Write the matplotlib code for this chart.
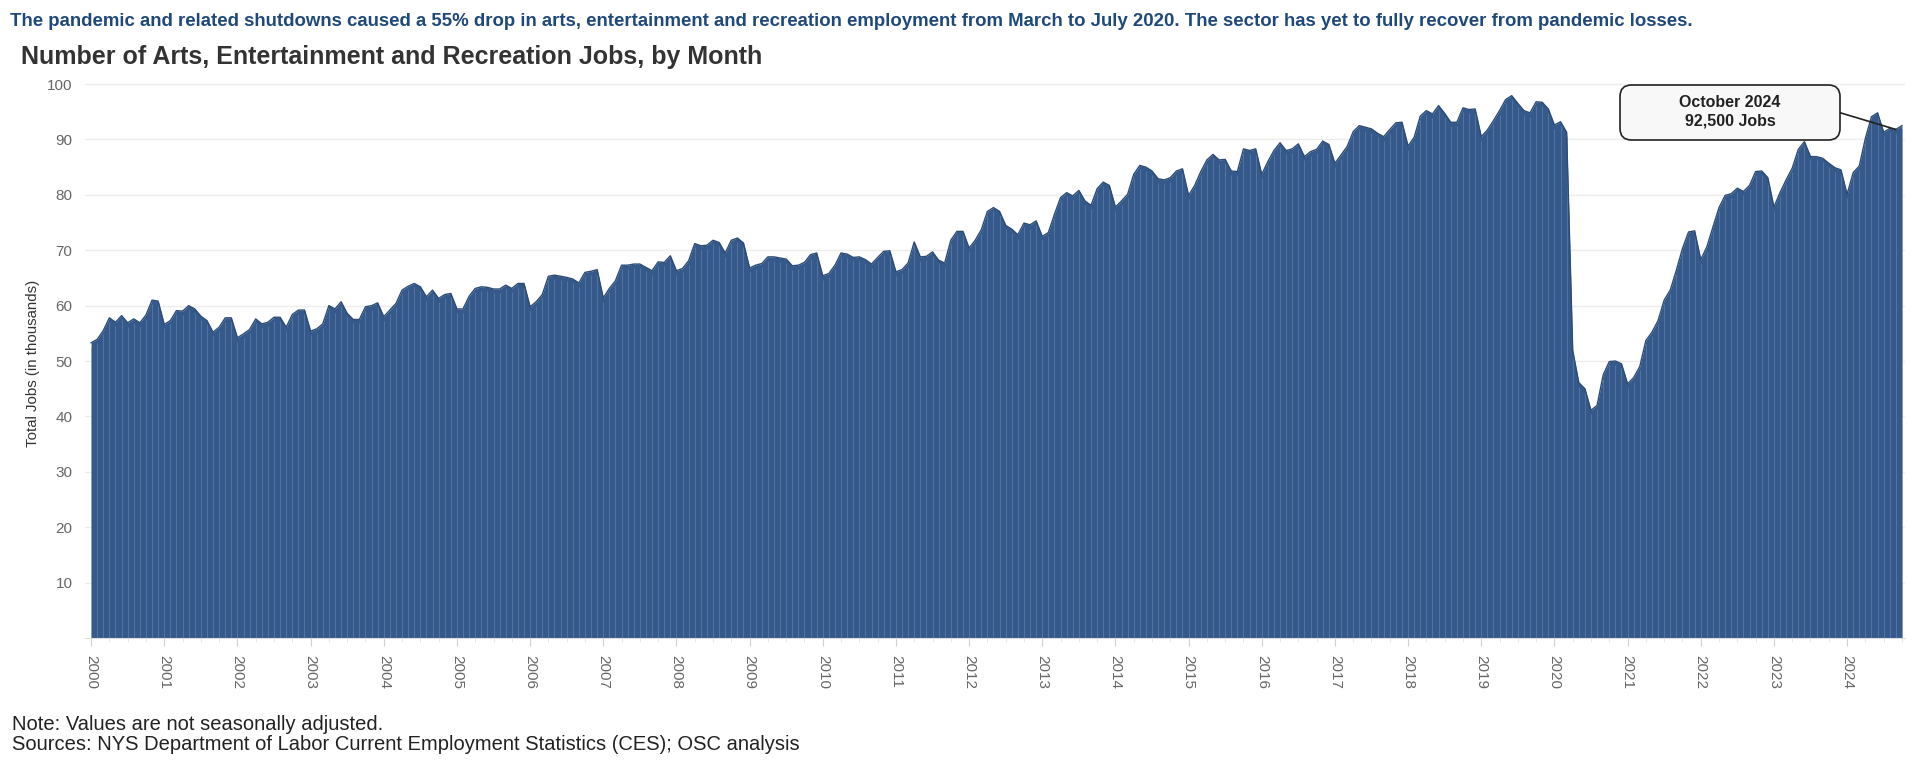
import matplotlib
matplotlib.use("Agg")
import matplotlib.pyplot as plt
from matplotlib.patches import FancyBboxPatch
import numpy as np

plt.rcParams['font.family'] = ['Liberation Sans', 'DejaVu Sans']

# monthly jobs (thousands), Jan 2000 .. Oct 2024
jobs_2000 = [53.3, 53.9, 55.5, 57.8, 57.0, 58.2, 56.9, 57.6, 56.9, 58.3, 61.0, 60.8]
jobs_2001 = [56.6, 57.3, 59.1, 59.0, 60.0, 59.4, 58.1, 57.3, 55.2, 56.1, 57.8, 57.8]
jobs_2002 = [54.2, 54.9, 55.7, 57.6, 56.7, 57.0, 57.9, 57.9, 56.1, 58.4, 59.2, 59.2]
jobs_2003 = [55.4, 55.8, 56.7, 60.0, 59.4, 60.7, 58.6, 57.5, 57.5, 59.8, 60.0, 60.5]
jobs_2004 = [58.0, 59.2, 60.4, 62.8, 63.5, 64.0, 63.4, 61.6, 62.8, 61.3, 62.0, 62.2]
jobs_2005 = [59.4, 59.4, 61.7, 63.1, 63.4, 63.3, 63.0, 63.0, 63.7, 63.1, 64.0, 64.0]
jobs_2006 = [59.8, 60.7, 62.0, 65.3, 65.5, 65.3, 65.1, 64.8, 64.1, 66.0, 66.2, 66.5]
jobs_2007 = [61.4, 63.1, 64.5, 67.3, 67.3, 67.5, 67.5, 66.9, 66.3, 67.9, 67.8, 69.0]
jobs_2008 = [66.3, 66.7, 68.1, 71.2, 70.8, 70.9, 71.8, 71.4, 69.5, 71.8, 72.2, 71.3]
jobs_2009 = [66.8, 67.3, 67.6, 68.8, 68.8, 68.6, 68.4, 67.2, 67.3, 67.8, 69.2, 69.5]
jobs_2010 = [65.4, 65.8, 67.3, 69.5, 69.3, 68.7, 68.8, 68.3, 67.5, 68.7, 69.8, 69.9]
jobs_2011 = [66.1, 66.5, 67.7, 71.5, 68.8, 68.9, 69.7, 68.2, 67.7, 71.8, 73.4, 73.4]
jobs_2012 = [70.4, 71.8, 73.7, 77.0, 77.7, 77.0, 74.5, 73.8, 72.8, 74.9, 74.6, 75.3]
jobs_2013 = [72.5, 73.2, 76.5, 79.5, 80.4, 79.8, 80.8, 78.9, 78.1, 81.1, 82.3, 81.7]
jobs_2014 = [77.8, 78.9, 80.1, 83.7, 85.3, 85.0, 84.3, 82.9, 82.7, 83.1, 84.3, 84.7]
jobs_2015 = [79.9, 81.7, 84.2, 86.3, 87.3, 86.3, 86.4, 84.3, 84.2, 88.3, 88.0, 88.3]
jobs_2016 = [83.7, 86.0, 88.0, 89.4, 88.0, 88.3, 89.2, 86.9, 87.8, 88.2, 89.7, 89.1]
jobs_2017 = [85.7, 87.2, 88.7, 91.4, 92.5, 92.2, 91.9, 91.1, 90.5, 91.8, 93.0, 93.1]
jobs_2018 = [88.8, 90.4, 94.2, 95.2, 94.6, 96.1, 94.7, 93.1, 93.1, 95.7, 95.4, 95.5]
jobs_2019 = [90.5, 91.7, 93.4, 95.2, 97.2, 97.9, 96.5, 95.2, 94.8, 96.8, 96.7, 95.5]
jobs_2020 = [92.6, 93.2, 91.3, 51.9, 46.1, 45.0, 41.1, 42.0, 47.5, 49.9, 50.0, 49.5]
jobs_2021 = [45.9, 47.0, 49.0, 53.7, 55.2, 57.3, 61.0, 62.8, 66.4, 70.3, 73.3, 73.5]
jobs_2022 = [68.3, 70.6, 74.2, 77.7, 79.9, 80.2, 81.2, 80.6, 81.7, 84.2, 84.3, 83.1]
jobs_2023 = [77.8, 80.4, 82.7, 84.8, 88.2, 89.6, 86.9, 86.9, 86.6, 85.7, 84.9, 84.5]
jobs_2024 = [80.1, 84.0, 85.2, 90.2, 94.1, 94.8, 91.3, 92.0, 91.8, 92.5]

years = list(range(2000, 2025))
jobs = (jobs_2000 + jobs_2001 + jobs_2002 + jobs_2003 + jobs_2004 + jobs_2005
        + jobs_2006 + jobs_2007 + jobs_2008 + jobs_2009 + jobs_2010 + jobs_2011
        + jobs_2012 + jobs_2013 + jobs_2014 + jobs_2015 + jobs_2016 + jobs_2017
        + jobs_2018 + jobs_2019 + jobs_2020 + jobs_2021 + jobs_2022 + jobs_2023
        + jobs_2024)
jobs = np.array(jobs)
x = np.arange(len(jobs))

W, H = 1920, 769
fig = plt.figure(figsize=(19.2, 7.69), dpi=100)
ax = fig.add_axes([85 / W, 1 - 638 / H, (1905 - 85) / W, (638 - 78.5) / H])

fill = '#35598a'
ax.fill_between(x, 0, jobs, color=fill, lw=0, zorder=2)
ax.vlines(x, 0, jobs - 0.7, color='#6c8ab2', lw=0.7, alpha=0.55, zorder=3)
ax.plot(x, jobs, color='#2c4b75', lw=1.0, zorder=4)

ax.set_xlim(-1, len(jobs) - 0.5)
ax.set_ylim(0, 101)
ax.set_yticks(range(10, 101, 10))
ax.grid(axis='y', color='#ececec', lw=1, zorder=0)
ax.tick_params(axis='y', length=0, pad=9, labelsize=11, labelcolor='#666666')

ax.set_xticks(x[::12])
ax.set_xticklabels([str(y) for y in years], rotation=-90, va='top', ha='center')
ax.set_xticks(x[::3], minor=True)
ax.tick_params(axis='x', which='major', length=6, color='#d0d0d0', labelsize=11,
               labelcolor='#666666', pad=6)
ax.tick_params(axis='x', which='minor', length=3, color='#e0e0e0')

for s in ['top', 'right', 'left']:
    ax.spines[s].set_visible(False)
ax.spines['bottom'].set_color('#dddddd')

fig.text(33 / W, 1 - 363 / H, 'Total Jobs (in thousands)', rotation=90,
         ha='center', va='center', fontsize=10.8, color='#333333')

fig.text(10 / W, 1 - 21 / H,
         'The pandemic and related shutdowns caused a 55% drop in arts, entertainment and '
         'recreation employment from March to July 2020. The sector has yet to fully recover '
         'from pandemic losses.',
         ha='left', va='center', fontsize=13.4, fontweight='bold', color='#1f497d')
fig.text(21 / W, 1 - 57 / H, 'Number of Arts, Entertainment and Recreation Jobs, by Month',
         ha='left', va='center', fontsize=18, fontweight='bold', color='#333333')

fig.text(12 / W, 1 - 724 / H, 'Note: Values are not seasonally adjusted.',
         ha='left', va='center', fontsize=14.5, color='#222222')
fig.text(12 / W, 1 - 745 / H,
         'Sources: NYS Department of Labor Current Employment Statistics (CES); OSC analysis',
         ha='left', va='center', fontsize=14.5, color='#222222')

# callout box for the last month
bx0, bx1, by0, by1 = 1620, 1840, 85, 140
box = FancyBboxPatch((bx0 / W, 1 - by1 / H), (bx1 - bx0) / W, (by1 - by0) / H,
                     boxstyle='round,pad=0,rounding_size=0.006', transform=fig.transFigure,
                     fc='#f8f8f8', ec='#222222', lw=1.2, zorder=10,
                     mutation_aspect=W / H)
fig.patches.append(box)
fig.text((bx0 + bx1) / 2 / W, 1 - 112 / H, 'October 2024\n92,500 Jobs',
         ha='center', va='center', fontsize=11.5, fontweight='bold', color='#222222',
         linespacing=1.3, zorder=11)
ax.annotate('', xy=(x[-2], jobs[-2]), xycoords='data',
            xytext=(bx1 / W, 1 - 112.7 / H), textcoords='figure fraction',
            arrowprops=dict(arrowstyle='-', color='#222222', lw=1.2,
                            shrinkA=0, shrinkB=0), zorder=12)

fig.savefig('out.png', dpi=100)
